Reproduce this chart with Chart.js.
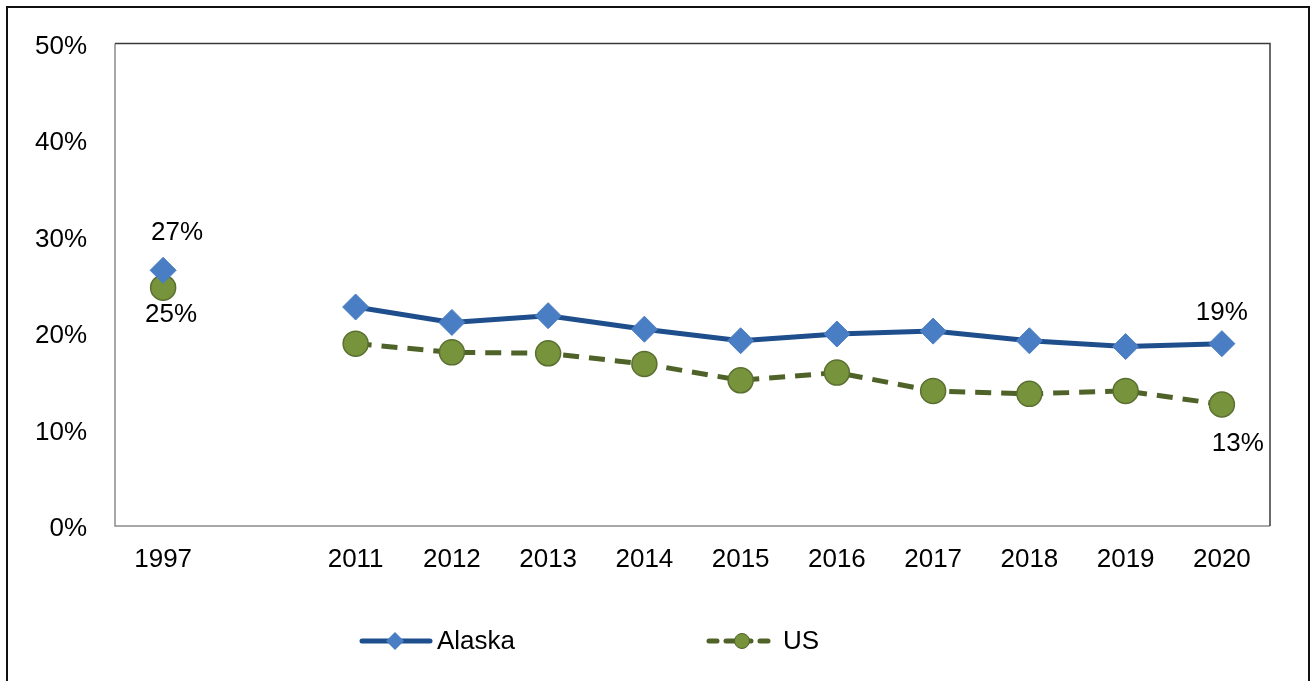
<!DOCTYPE html>
<html>
<head>
<meta charset="utf-8">
<script src="https://cdn.jsdelivr.net/npm/chart.js@4/dist/chart.umd.min.js"></script>
<style>
  html, body { margin: 0; padding: 0; background: #fff; }
  #wrap { width: 1312px; height: 681px; position: relative; }
</style>
</head>
<body>
<div id="wrap"><canvas id="chart" width="1312" height="681"></canvas></div>
<script>
// categories (empty slot keeps the gap between 1997 and 2011)
const years = ["1997", "", "2011", "2012", "2013", "2014", "2015", "2016", "2017", "2018", "2019", "2020"];
const alaska = [26.5, null, 22.7, 21.1, 21.8, 20.4, 19.2, 19.9, 20.2, 19.2, 18.6, 18.9];
const us = [24.7, null, 18.9, 18.0, 17.9, 16.8, 15.1, 15.9, 14.0, 13.7, 14.0, 12.6];
const yTicks = [0, 10, 20, 30, 40, 50];

// data labels shown on the chart: [dataset, index, text]
const pointLabels = [
  [0, 0, "27%"],
  [1, 0, "25%"],
  [0, 11, "19%"],
  [1, 11, "13%"]
];
// label offsets from the point (px)
const labelOffsets = [[14, -37], [8, 27], [0, -31], [16, 39]];

const FONT = "'Liberation Sans', Arial, sans-serif";
const navy = "#1f4e8c";
const blue = "#4a7ec4";
const olive = "#4f6228";
const green = "#77933c";

const extras = {
  id: "extras",
  beforeDraw(chart) {
    const c = chart.ctx;
    c.save();
    c.fillStyle = "#fff";
    c.fillRect(0, 0, chart.width, chart.height);
    // outer frame
    c.strokeStyle = "#111";
    c.lineWidth = 2;
    c.strokeRect(7, 7, 1302, 690);
    // plot frame: left/bottom grey, top/right dark
    const a = chart.chartArea;
    c.lineWidth = 1.5;
    c.strokeStyle = "#8c8c8c";
    c.beginPath();
    c.moveTo(a.left, a.top); c.lineTo(a.left, a.bottom); c.lineTo(a.right, a.bottom);
    c.stroke();
    c.strokeStyle = "#3a3a3a";
    c.beginPath();
    c.moveTo(a.left, a.top); c.lineTo(a.right, a.top); c.lineTo(a.right, a.bottom);
    c.stroke();
    c.restore();
  },
  afterDraw(chart) {
    const c = chart.ctx;
    c.save();
    c.font = "26px " + FONT;
    c.fillStyle = "#000";
    c.textAlign = "center";
    c.textBaseline = "middle";
    pointLabels.forEach(([ds, i, txt], k) => {
      const pt = chart.getDatasetMeta(ds).data[i];
      c.fillText(txt, pt.x + labelOffsets[k][0], pt.y + labelOffsets[k][1]);
    });

    // legend
    const ly = 641;
    c.lineCap = "round";
    c.strokeStyle = navy;
    c.lineWidth = 5;
    c.beginPath(); c.moveTo(362, ly); c.lineTo(430, ly); c.stroke();
    c.fillStyle = blue;
    c.beginPath();
    c.moveTo(395, ly - 9); c.lineTo(404, ly); c.lineTo(395, ly + 9); c.lineTo(386, ly);
    c.closePath(); c.fill();
    c.strokeStyle = olive;
    c.setLineDash([8, 9]);
    c.beginPath(); c.moveTo(709, ly); c.lineTo(773, ly); c.stroke();
    c.setLineDash([]);
    c.fillStyle = green;
    c.beginPath(); c.arc(742, ly, 7.5, 0, Math.PI * 2); c.fill();
    c.lineWidth = 1; c.stroke();
    c.fillStyle = "#000";
    c.font = "26px " + FONT;
    c.textAlign = "left";
    c.fillText("Alaska", 437, ly + 1);
    c.fillText("US", 783, ly + 1);
    c.restore();
  }
};

new Chart(document.getElementById("chart"), {
  type: "line",
  data: {
    labels: years,
    datasets: [
      {
        label: "Alaska",
        data: alaska,
        borderColor: navy,
        borderWidth: 5,
        pointStyle: "rectRot",
        pointRadius: 13,
        pointBackgroundColor: blue,
        pointBorderColor: blue,
        pointBorderWidth: 1,
        spanGaps: false,
        tension: 0
      },
      {
        label: "US",
        data: us,
        borderColor: olive,
        borderWidth: 5,
        borderDash: [16, 10],
        pointStyle: "circle",
        pointRadius: 12.5,
        pointBackgroundColor: green,
        pointBorderColor: "#5a7030",
        pointBorderWidth: 1.5,
        spanGaps: false,
        tension: 0
      }
    ]
  },
  options: {
    responsive: false,
    animation: false,
    layout: { padding: { left: 0, top: 42, right: 42, bottom: 95 } },
    plugins: {
      legend: { display: false },
      tooltip: { enabled: false }
    },
    scales: {
      x: {
        offset: true,
        grid: { display: false, drawTicks: false },
        border: { display: false },
        ticks: {
          autoSkip: false,
          maxRotation: 0,
          padding: 18,
          color: "#000",
          font: { family: FONT, size: 26 }
        },
        afterFit(scale) { scale.height = 60; }
      },
      y: {
        min: 0,
        max: 50,
        afterBuildTicks(scale) { scale.ticks = yTicks.map(v => ({ value: v })); },
        grid: { display: false, drawTicks: false },
        border: { display: false },
        ticks: {
          padding: 28,
          labelOffset: 3,
          color: "#000",
          font: { family: FONT, size: 26 },
          callback: v => v + "%"
        },
        afterFit(scale) { scale.width = 115; }
      }
    }
  },
  plugins: [extras]
});
</script>
</body>
</html>
